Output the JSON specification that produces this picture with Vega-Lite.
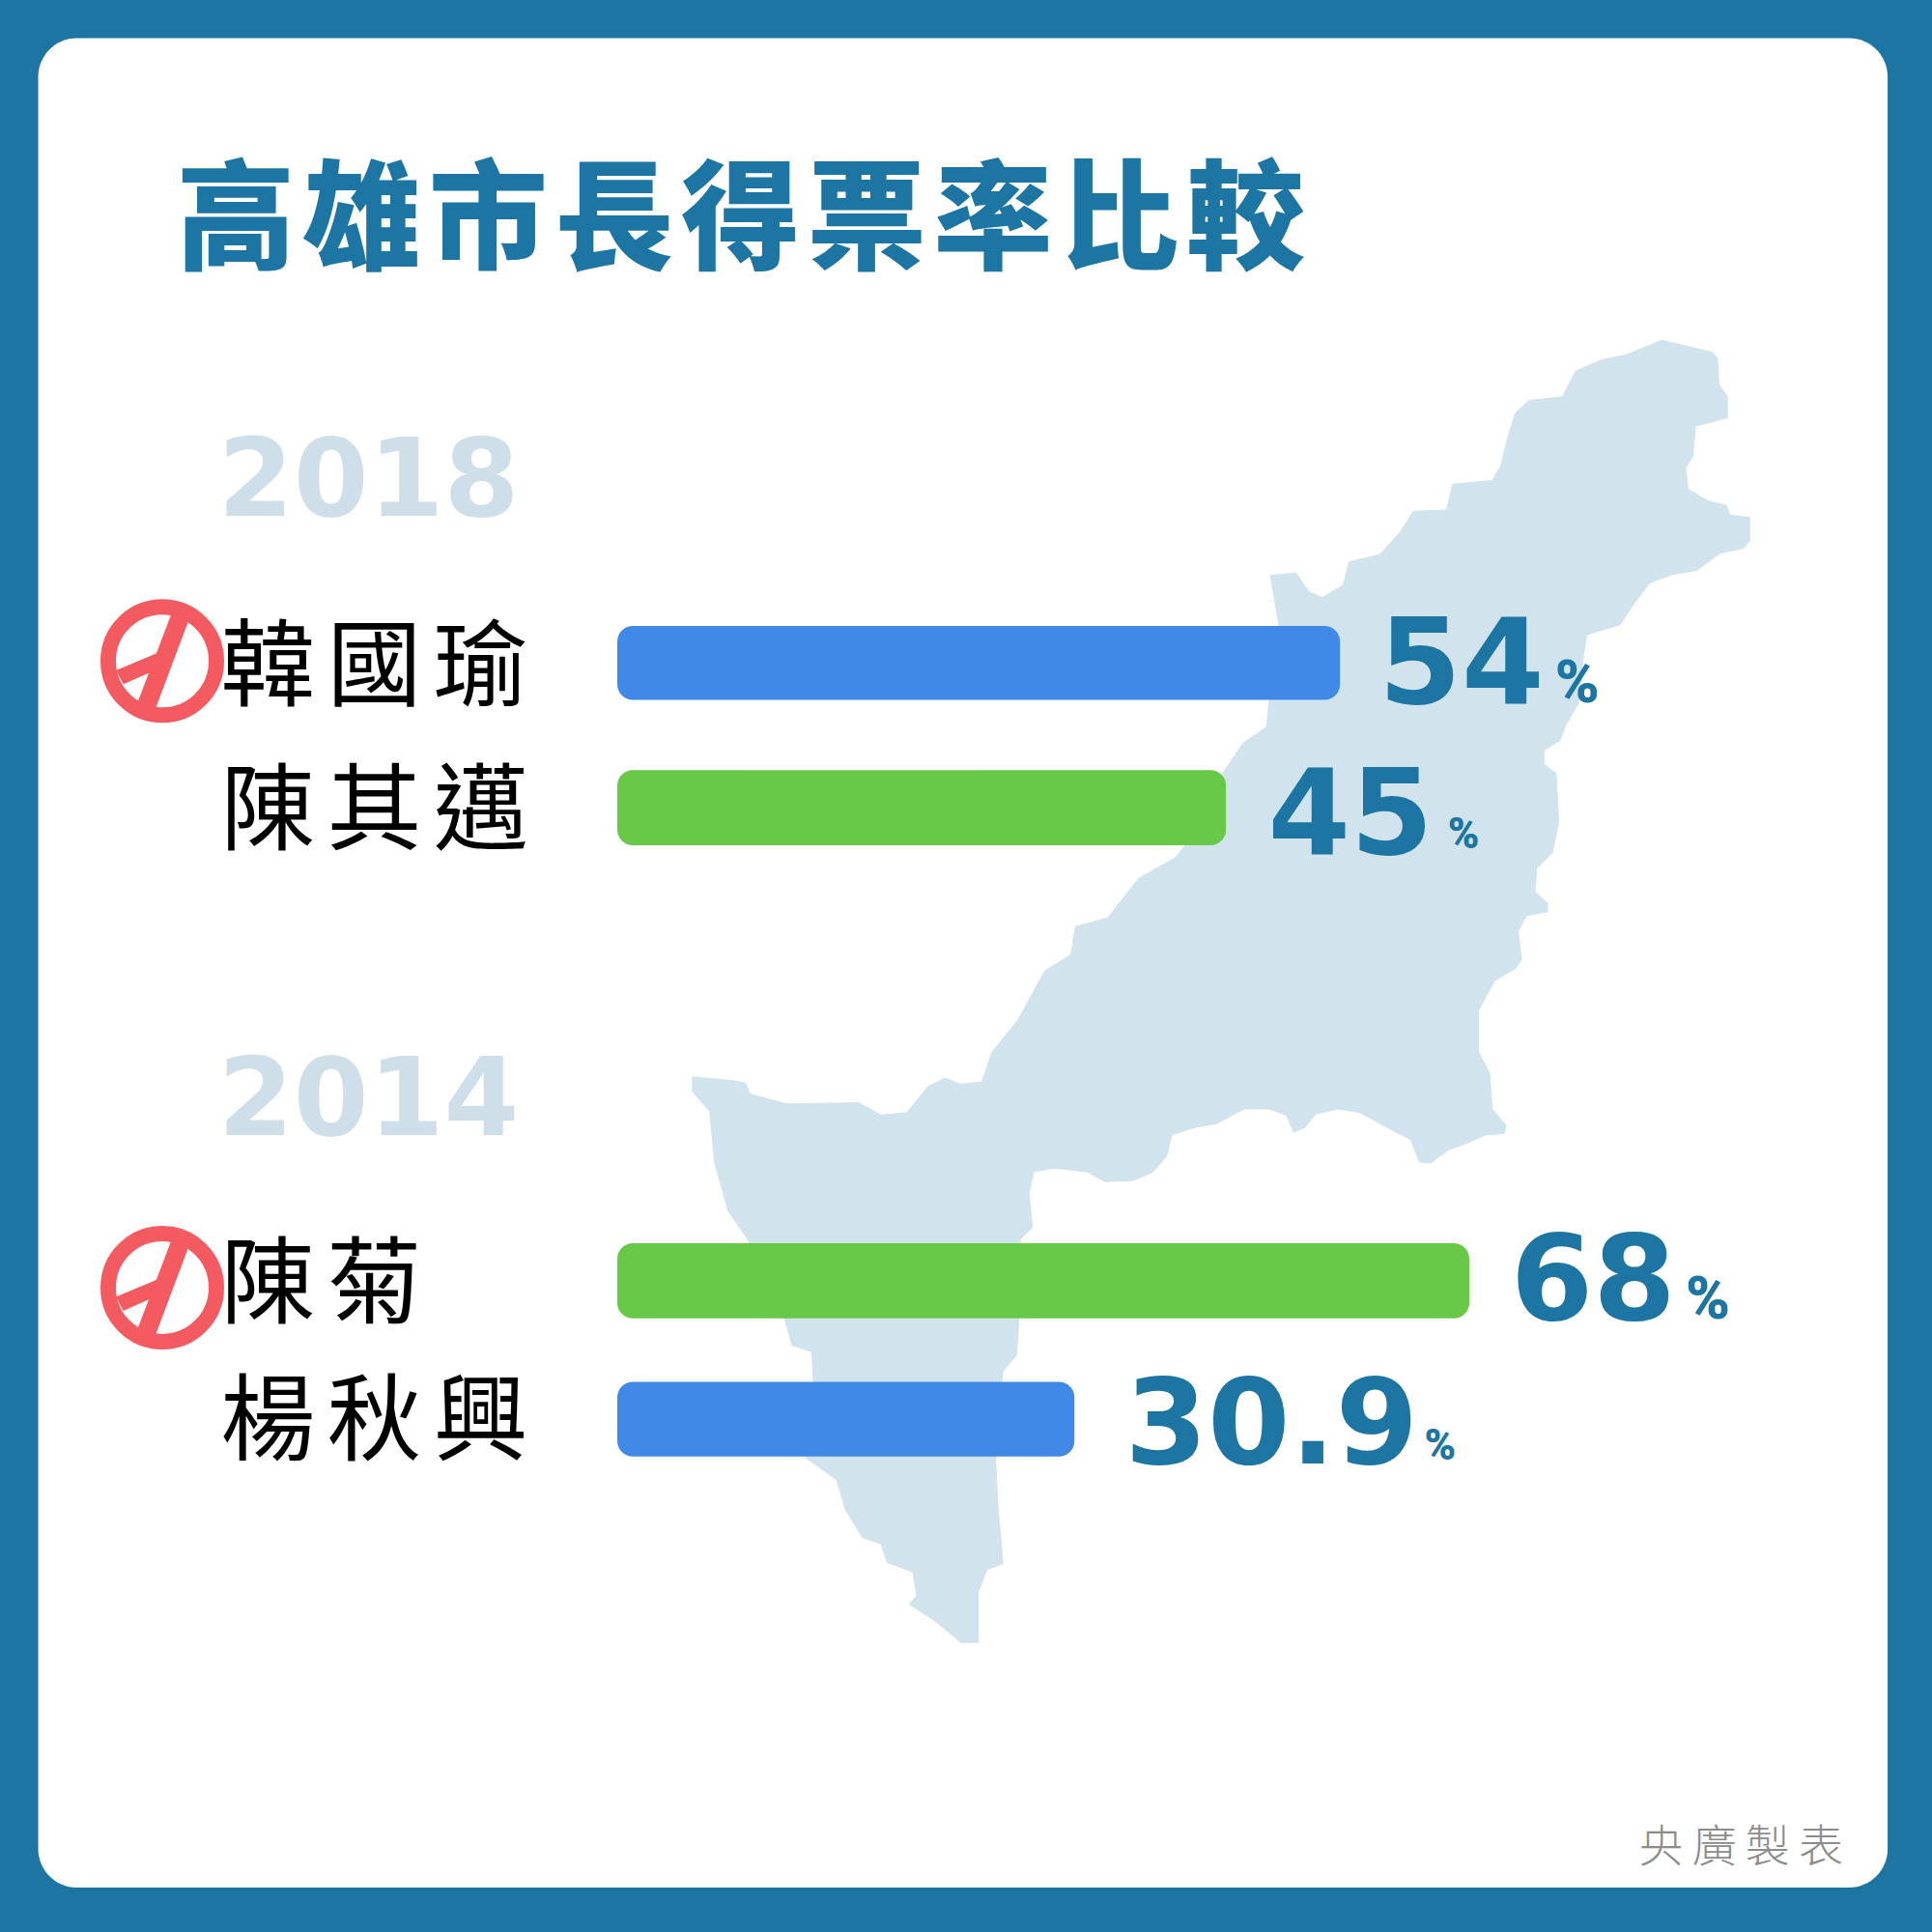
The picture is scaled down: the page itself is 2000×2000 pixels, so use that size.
{
  "$schema": "https://vega.github.io/schema/vega-lite/v6.json",
  "width": 2000,
  "height": 2000,
  "autosize": {"type": "fit", "contains": "padding"},
  "padding": 0,
  "background": "#1c75a2",
  "view": {"stroke": null},
  "encoding": {
    "x": {"field": "x", "type": "quantitative", "axis": null, "scale": {"domain": [0, 1568], "nice": false, "zero": false}},
    "y": {"field": "y", "type": "quantitative", "axis": null, "scale": {"domain": [0, 1568], "nice": false, "zero": false, "reverse": true}}
  },
  "layer": [
    {
      "data": {"values": [{"x": 31, "x2": 1532, "y": 31, "y2": 1532}]},
      "mark": {"type": "rect", "fill": "#ffffff", "cornerRadius": 40},
      "encoding": {"x2": {"field": "x2"}, "y2": {"field": "y2"}}
    },
    {
      "data": {"values": [
        {"i":1,"x":1349,"y":276},{"i":2,"x":1356,"y":278},{"i":3,"x":1390,"y":286},{"i":4,"x":1394,"y":291},{"i":5,"x":1395,"y":312},{"i":6,"x":1402,"y":322},{"i":7,"x":1402,"y":339},{"i":8,"x":1376,"y":346},{"i":9,"x":1374,"y":370},{"i":10,"x":1368,"y":380},
        {"i":11,"x":1370,"y":397},{"i":12,"x":1387,"y":407},{"i":13,"x":1401,"y":410},{"i":14,"x":1404,"y":418},{"i":15,"x":1420,"y":420},{"i":16,"x":1420,"y":439},{"i":17,"x":1415,"y":445},{"i":18,"x":1396,"y":449},{"i":19,"x":1377,"y":463},{"i":20,"x":1358,"y":466},
        {"i":21,"x":1339,"y":473},{"i":22,"x":1326,"y":490},{"i":23,"x":1315,"y":507},{"i":24,"x":1288,"y":515},{"i":25,"x":1285,"y":533},{"i":26,"x":1281,"y":571},{"i":27,"x":1271,"y":588},{"i":28,"x":1266,"y":601},{"i":29,"x":1253,"y":609},{"i":30,"x":1253,"y":620},
        {"i":31,"x":1263,"y":628},{"i":32,"x":1265,"y":667},{"i":33,"x":1260,"y":692},{"i":34,"x":1247,"y":705},{"i":35,"x":1246,"y":724},{"i":36,"x":1256,"y":733},{"i":37,"x":1256,"y":740},{"i":38,"x":1239,"y":743},{"i":39,"x":1232,"y":756},{"i":40,"x":1235,"y":779},
        {"i":41,"x":1230,"y":786},{"i":42,"x":1213,"y":796},{"i":43,"x":1200,"y":820},{"i":44,"x":1200,"y":854},{"i":45,"x":1209,"y":871},{"i":46,"x":1211,"y":900},{"i":47,"x":1222,"y":913},{"i":48,"x":1221,"y":920},{"i":49,"x":1206,"y":921},{"i":50,"x":1190,"y":928},
        {"i":51,"x":1176,"y":933},{"i":52,"x":1161,"y":944},{"i":53,"x":1152,"y":943},{"i":54,"x":1145,"y":925},{"i":55,"x":1122,"y":913},{"i":56,"x":1104,"y":903},{"i":57,"x":1086,"y":900},{"i":58,"x":1068,"y":904},{"i":59,"x":1059,"y":915},{"i":60,"x":1050,"y":919},
        {"i":61,"x":1044,"y":905},{"i":62,"x":1030,"y":900},{"i":63,"x":1010,"y":900},{"i":64,"x":987,"y":912},{"i":65,"x":970,"y":915},{"i":66,"x":951,"y":921},{"i":67,"x":947,"y":938},{"i":68,"x":936,"y":951},{"i":69,"x":920,"y":958},{"i":70,"x":897,"y":959},
        {"i":71,"x":882,"y":951},{"i":72,"x":855,"y":948},{"i":73,"x":839,"y":951},{"i":74,"x":835,"y":969},{"i":75,"x":838,"y":996},{"i":76,"x":828,"y":1006},{"i":77,"x":828,"y":1009},{"i":78,"x":827,"y":1071},{"i":79,"x":825,"y":1100},{"i":80,"x":814,"y":1113},
        {"i":81,"x":813,"y":1123},{"i":82,"x":808,"y":1185},{"i":83,"x":810,"y":1224},{"i":84,"x":814,"y":1269},{"i":85,"x":801,"y":1274},{"i":86,"x":794,"y":1292},{"i":87,"x":794,"y":1333},{"i":88,"x":780,"y":1333},{"i":89,"x":758,"y":1315},{"i":90,"x":738,"y":1302},
        {"i":91,"x":744,"y":1295},{"i":92,"x":741,"y":1276},{"i":93,"x":720,"y":1268},{"i":94,"x":715,"y":1253},{"i":95,"x":700,"y":1248},{"i":96,"x":686,"y":1225},{"i":97,"x":679,"y":1201},{"i":98,"x":654,"y":1183},{"i":99,"x":660,"y":1121},{"i":100,"x":659,"y":1097},
        {"i":101,"x":643,"y":1092},{"i":102,"x":637,"y":1071},{"i":103,"x":607,"y":1006},{"i":104,"x":591,"y":983},{"i":105,"x":580,"y":944},{"i":106,"x":576,"y":902},{"i":107,"x":562,"y":886},{"i":108,"x":562,"y":874},{"i":109,"x":594,"y":877},{"i":110,"x":605,"y":879},
        {"i":111,"x":609,"y":888},{"i":112,"x":639,"y":896},{"i":113,"x":697,"y":895},{"i":114,"x":715,"y":905},{"i":115,"x":736,"y":903},{"i":116,"x":753,"y":882},{"i":117,"x":767,"y":875},{"i":118,"x":780,"y":880},{"i":119,"x":797,"y":878},{"i":120,"x":805,"y":854},
        {"i":121,"x":826,"y":828},{"i":122,"x":848,"y":788},{"i":123,"x":869,"y":775},{"i":124,"x":873,"y":752},{"i":125,"x":899,"y":745},{"i":126,"x":924,"y":713},{"i":127,"x":954,"y":696},{"i":128,"x":962,"y":686},{"i":129,"x":992,"y":628},{"i":130,"x":1009,"y":603},
        {"i":131,"x":1028,"y":590},{"i":132,"x":1030,"y":569},{"i":133,"x":1038,"y":507},{"i":134,"x":1031,"y":467},{"i":135,"x":1052,"y":465},{"i":136,"x":1062,"y":480},{"i":137,"x":1073,"y":485},{"i":138,"x":1090,"y":475},{"i":139,"x":1095,"y":456},{"i":140,"x":1120,"y":450},
        {"i":141,"x":1137,"y":431},{"i":142,"x":1147,"y":415},{"i":143,"x":1174,"y":414},{"i":144,"x":1179,"y":393},{"i":145,"x":1211,"y":390},{"i":146,"x":1218,"y":378},{"i":147,"x":1224,"y":354},{"i":148,"x":1230,"y":335},{"i":149,"x":1241,"y":325},{"i":150,"x":1268,"y":322},
        {"i":151,"x":1279,"y":301},{"i":152,"x":1300,"y":292},{"i":153,"x":1320,"y":288},{"i":154,"x":1349,"y":276}
      ]},
      "mark": {"type": "line", "filled": true, "fill": "#d1e3ed", "stroke": "#d1e3ed", "strokeWidth": 1, "interpolate": "linear"},
      "encoding": {"order": {"field": "i", "type": "quantitative"}}
    },
    {
      "data": {"values": [
        {"name": "韓國瑜", "year": 2018, "share": 54, "x": 501, "x2": 1087.5, "y": 508, "y2": 568},
        {"name": "陳其邁", "year": 2018, "share": 45, "x": 501, "x2": 995, "y": 625, "y2": 686},
        {"name": "陳菊", "year": 2014, "share": 68, "x": 501, "x2": 1192.5, "y": 1009, "y2": 1070},
        {"name": "楊秋興", "year": 2014, "share": 30.9, "x": 501, "x2": 872, "y": 1121.5, "y2": 1182}
      ]},
      "mark": {"type": "rect", "cornerRadius": 16},
      "encoding": {
        "x2": {"field": "x2"},
        "y2": {"field": "y2"},
        "color": {
          "field": "name",
          "type": "nominal",
          "legend": null,
          "scale": {"domain": ["韓國瑜", "陳其邁", "陳菊", "楊秋興"], "range": ["#4189e6", "#68c848", "#68c848", "#4189e6"]}
        }
      }
    },
    {
      "data": {"values": [{"label": "高\u200a雄\u200a市\u200a長\u200a得\u200a票\u200a率\u200a比\u200a較", "x": 143, "y": 211}]},
      "mark": {"type": "text", "align": "left", "baseline": "alphabetic", "font": "Noto Sans CJK TC", "fontWeight": 900, "fontSize": 123, "fill": "#1c75a2"},
      "encoding": {"text": {"field": "label"}}
    },
    {
      "data": {"values": [{"label": "2018", "x": 177, "y": 419}, {"label": "2014", "x": 177, "y": 921}]},
      "mark": {"type": "text", "align": "left", "baseline": "alphabetic", "font": "DejaVu Sans", "fontWeight": "bold", "fontSize": 112, "fill": "#cfdfe9"},
      "encoding": {"text": {"field": "label"}}
    },
    {
      "data": {"values": [
        {"label": "韓\u200a\u200a國\u200a\u200a瑜", "x": 179, "y": 567},
        {"label": "陳\u200a\u200a其\u200a\u200a邁", "x": 179, "y": 684},
        {"label": "陳\u200a\u200a菊", "x": 179, "y": 1067.5},
        {"label": "楊\u200a\u200a秋\u200a\u200a興", "x": 179, "y": 1179}
      ]},
      "mark": {"type": "text", "align": "left", "baseline": "alphabetic", "font": "Noto Sans CJK TC", "fontSize": 98, "fill": "#000000"},
      "encoding": {"text": {"field": "label"}}
    },
    {
      "data": {"values": [
        {"label": "54", "x": 1119, "y": 571},
        {"label": "45", "x": 1029, "y": 693},
        {"label": "68", "x": 1226, "y": 1071},
        {"label": "30.9", "x": 913, "y": 1188}
      ]},
      "mark": {"type": "text", "align": "left", "baseline": "alphabetic", "font": "DejaVu Sans", "fontWeight": "bold", "fontSize": 123, "fill": "#1c75a2"},
      "encoding": {"text": {"field": "label"}}
    },
    {
      "data": {"values": [{"label": "%", "x": 1262, "y": 570}, {"label": "%", "x": 1368, "y": 1070}]},
      "mark": {"type": "text", "align": "left", "baseline": "alphabetic", "font": "Roboto", "fontWeight": 900, "fontSize": 62, "fill": "#1c75a2"},
      "encoding": {"text": {"field": "label"}}
    },
    {
      "data": {"values": [{"label": "%", "x": 1175, "y": 688}, {"label": "%", "x": 1156, "y": 1185}]},
      "mark": {"type": "text", "align": "left", "baseline": "alphabetic", "font": "Roboto", "fontWeight": 900, "fontSize": 44, "fill": "#1c75a2"},
      "encoding": {"text": {"field": "label"}}
    },
    {
      "data": {"values": [{"label": "央\u2009廣\u2009製\u2009表", "x": 1330, "y": 1511}]},
      "mark": {"type": "text", "align": "left", "baseline": "alphabetic", "font": "Noto Sans CJK TC", "fontWeight": 300, "fontSize": 46, "fill": "#8c8c8c"},
      "encoding": {"text": {"field": "label"}}
    },
    {
      "data": {"values": [{"x": 131.7, "y": 536.5}, {"x": 131.7, "y": 1045}]},
      "mark": {"type": "point", "shape": "circle", "filled": false, "stroke": "#f45b60", "strokeWidth": 16, "size": 12544, "opacity": 1}
    },
    {
      "data": {"values": [{"x": 131.7, "y": 536.5}, {"x": 131.7, "y": 1045}]},
      "mark": {
        "type": "point",
        "shape": "M0.18 -0.85 L0.45 -0.72 L-0.14 0.85 L-0.42 0.72 Z M-0.75 0.15 L-0.08 -0.13 L0 0.1 L-0.21 0.19 L-0.63 0.375 Z",
        "filled": true,
        "fill": "#f45b60",
        "size": 16384,
        "opacity": 1
      }
    }
  ]
}
